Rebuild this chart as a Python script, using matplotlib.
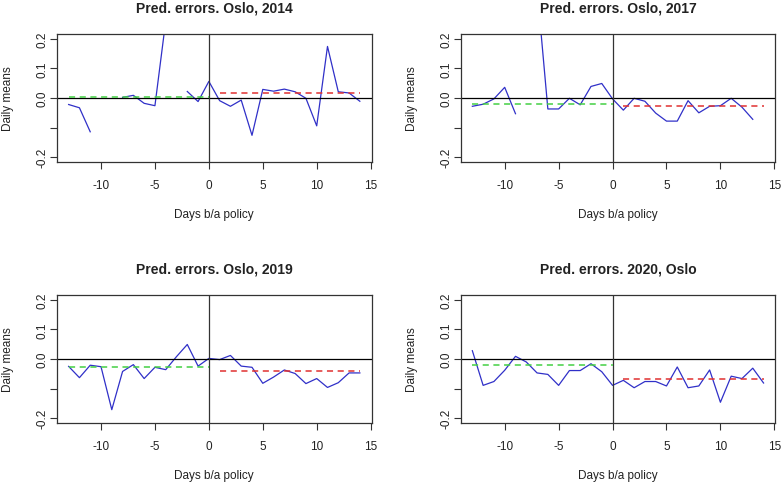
import matplotlib
matplotlib.use("Agg")
import matplotlib.pyplot as plt
import numpy as np

plt.rcParams["font.family"] = ["Liberation Sans", "DejaVu Sans"]

nan = np.nan
days = list(range(-13, 15))

# prediction errors per panel (NaN = missing day)
err_2014 = [-0.022, -0.033, -0.114, nan, nan, 0.002, 0.009, -0.018, -0.026, 0.26, nan,
            0.022, -0.012, 0.056, -0.009, -0.028, -0.007, -0.126, 0.029, 0.023, 0.030,
            0.021, -0.001, -0.094, 0.174, 0.021, 0.017, -0.011]
err_2017 = [-0.028, -0.021, -0.003, 0.036, -0.053, nan, 0.37, -0.037, -0.037, -0.001,
            -0.023, 0.039, 0.049, -0.003, -0.041, -0.001, -0.011, -0.051, -0.078, -0.078,
            -0.009, -0.050, -0.028, -0.026, -0.001, -0.031, -0.072, nan]
err_2019 = [-0.025, -0.063, -0.021, -0.026, -0.171, -0.042, -0.019, -0.066, -0.028, -0.036,
            0.008, 0.049, -0.024, 0.002, -0.002, 0.012, -0.024, -0.028, -0.082, -0.061,
            -0.037, -0.049, -0.083, -0.066, -0.096, -0.080, -0.047, -0.047]
err_2020 = [0.028, -0.089, -0.076, -0.038, 0.009, -0.010, -0.047, -0.052, -0.089, -0.039,
            -0.039, -0.016, -0.043, -0.089, -0.072, -0.097, -0.076, -0.076, -0.091, -0.027,
            -0.097, -0.091, -0.037, -0.146, -0.058, -0.066, -0.031, -0.081]

titles = ["Pred. errors. Oslo, 2014", "Pred. errors. Oslo, 2017",
          "Pred. errors. Oslo, 2019", "Pred. errors. 2020, Oslo"]
series = [err_2014, err_2017, err_2019, err_2020]
mean_before = [0.003, -0.021, -0.027, -0.021]
mean_after = [0.016, -0.026, -0.040, -0.066]

W, H = 781, 485
fig = plt.figure(figsize=(W / 100, H / 100), dpi=100)

# panel boxes in pixels: left, top
boxes = [(57, 35), (460.7, 35), (57, 296), (460.7, 296)]
bw, bh = 314.5, 128

txt = "#222222"
for (left, top), title, vals, mb, ma in zip(boxes, titles, series, mean_before, mean_after):
    ax = fig.add_axes([left / W, 1 - (top + bh) / H, bw / W, bh / H])
    ax.plot(days, vals, color="#3030c8", lw=0.9)
    ax.axhline(0, color="black", lw=0.9)
    ax.axvline(0, color="#333333", lw=0.9)
    ax.plot([-13, 0], [mb, mb], color="#44d044", lw=1.1, ls=(0, (4, 3)))
    ax.plot([1, 14], [ma, ma], color="#e03030", lw=1.1, ls=(0, (4, 3)))

    ax.set_xlim(-14.08, 15.08)
    ax.set_ylim(-0.216, 0.216)
    ax.set_xticks([-10, -5, 0, 5, 10, 15])
    ax.set_xticklabels(["-10", "-5", "0", "5", "10", "15"])
    ax.set_yticks([-0.2, -0.1, 0.0, 0.1, 0.2])
    ax.set_yticklabels(["-0.2", "", "0.0", "0.1", "0.2"], rotation=90, va="center")
    ax.tick_params(axis="both", direction="out", length=5, width=0.8,
                   labelsize=8.5, colors="#333333", labelcolor=txt)
    ax.tick_params(axis="x", pad=7)
    ax.tick_params(axis="y", pad=1)
    for s in ax.spines.values():
        s.set_color("#333333")
        s.set_linewidth(0.9)

    ax.set_title(title, fontsize=10, fontweight="bold", color=txt, pad=16)
    ax.set_xlabel("Days b/a policy", fontsize=8.5, color=txt, va="center")
    ax.xaxis.set_label_coords(0.5, -0.406)
    ax.set_ylabel("Daily means", fontsize=8.5, color=txt, va="center")
    ax.yaxis.set_label_coords(-0.156, 0.5)

fig.savefig("out.png", dpi=100)
